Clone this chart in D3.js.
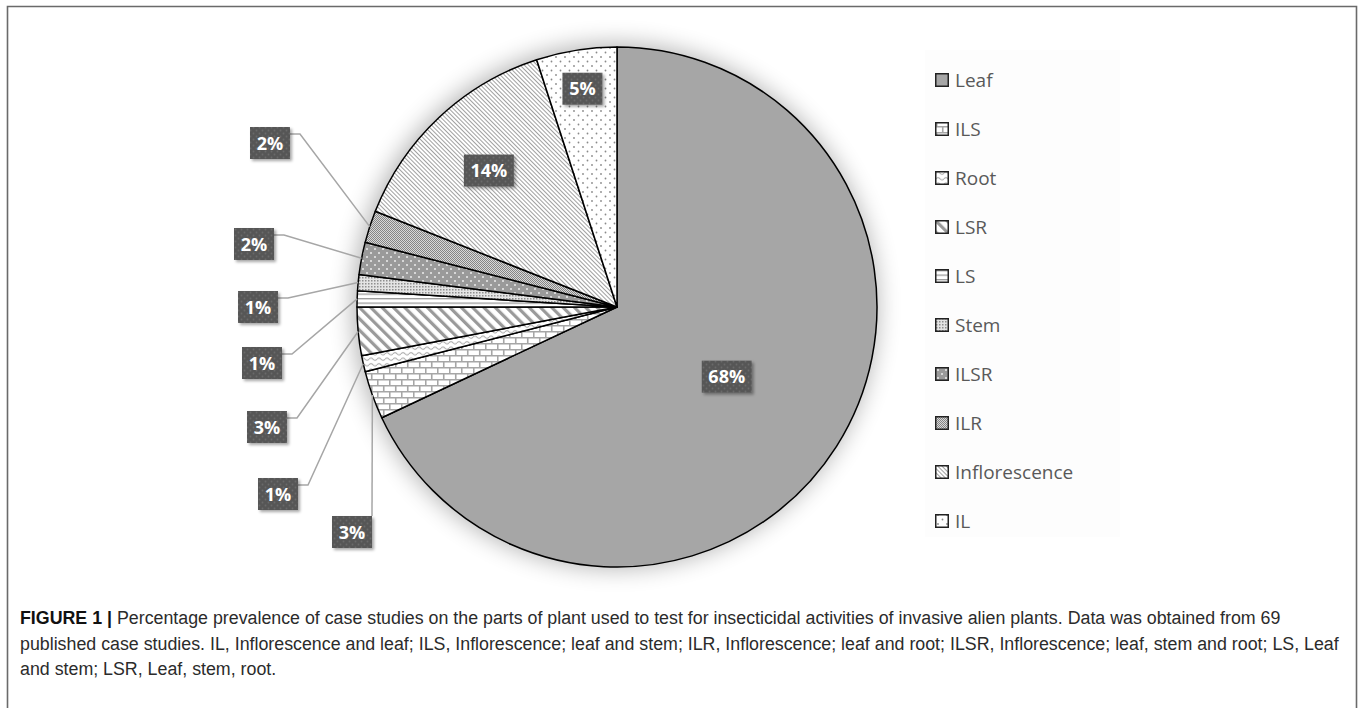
<!DOCTYPE html>
<html>
<head>
<meta charset="utf-8">
<script src="https://cdn.jsdelivr.net/npm/d3@7"></script>
<style>
  html, body { margin: 0; padding: 0; background: #fff; }
  svg { display: block; }
</style>
</head>
<body>
<svg id="fig" width="1360" height="708"></svg>
<script>
// Plant parts tested, in the order the slices run clockwise from 12 o'clock
const categories = ["Leaf", "ILS", "Root", "LSR", "LS", "Stem", "ILSR", "ILR", "Inflorescence", "IL"];
// Share of the 69 case studies, percent
const shares = [68, 3, 1, 3, 1, 1, 2, 2, 14, 5];
// Fill pattern used for each part
const patternIds = ["pLeaf", "pBrick", "pWave", "pWide", "pHoriz", "pStem", "pILSR", "pILR", "pFine", "pDots"];

const captionLines = [
  "Percentage prevalence of case studies on the parts of plant used to test for insecticidal activities of invasive alien plants. Data was obtained from 69",
  "published case studies. IL, Inflorescence and leaf; ILS, Inflorescence; leaf and stem; ILR, Inflorescence; leaf and root; ILSR, Inflorescence; leaf, stem and root; LS, Leaf",
  "and stem; LSR, Leaf, stem, root."
];

// ---- layout ----
const W = 1360, H = 708;
const cx = 617, cy = 307, R = 260;
// labels drawn on the slice: fraction of the radius along the mid angle
const insideLabelRadius = { "Leaf": 0.5, "Inflorescence": 0.72, "IL": 0.85 };
// labels pulled out of the pie: top-left corner of the box; elbow = short horizontal run
const outsideLabels = {
  "ILS":  { x: 332, y: 516, elbow: false },
  "Root": { x: 258, y: 478, elbow: true },
  "LSR":  { x: 247, y: 411, elbow: true },
  "LS":   { x: 242, y: 347, elbow: true },
  "Stem": { x: 238, y: 291, elbow: true },
  "ILSR": { x: 234, y: 228, elbow: true },
  "ILR":  { x: 250, y: 127, elbow: true }
};

const svg = d3.select("#fig");
const defs = svg.append("defs");
const grey = "#a6a6a6";

// ---- fill patterns ----
function pattern(id, w, h, attrs) {
  const p = defs.append("pattern").attr("id", id)
    .attr("patternUnits", "userSpaceOnUse").attr("width", w).attr("height", h);
  if (attrs) Object.entries(attrs).forEach(([k, v]) => p.attr(k, v));
  return p;
}
// Leaf: solid grey
pattern("pLeaf", 4, 4).append("rect").attr("width", 4).attr("height", 4).attr("fill", grey);
// ILS: bricks
{
  const p = pattern("pBrick", 12, 12);
  p.append("rect").attr("width", 12).attr("height", 12).attr("fill", "#fff");
  p.append("path").attr("d", "M0 0.75H12M0 6.75H12M0.75 0V6.75M6.75 6.75V12")
    .attr("stroke", grey).attr("stroke-width", 1.6).attr("fill", "none");
}
// Root: wavy lines
{
  const p = pattern("pWave", 8, 5.5);
  p.append("rect").attr("width", 8).attr("height", 5.5).attr("fill", "#fff");
  p.append("path").attr("d", "M0 2.75 Q2 0.6 4 2.75 T8 2.75")
    .attr("stroke", "#999").attr("stroke-width", 1).attr("fill", "none");
}
// LSR: wide diagonal stripes
{
  const p = pattern("pWide", 8, 8, { patternTransform: "rotate(-45)" });
  p.append("rect").attr("width", 8).attr("height", 8).attr("fill", "#fff");
  p.append("rect").attr("x", 0).attr("width", 3.2).attr("height", 8).attr("fill", "#9a9a9a");
}
// LS: horizontal lines
{
  const p = pattern("pHoriz", 6, 4.5);
  p.append("rect").attr("width", 6).attr("height", 4.5).attr("fill", "#fff");
  p.append("rect").attr("y", 0).attr("width", 6).attr("height", 1.3).attr("fill", "#9a9a9a");
}
// Stem: light fine grid
{
  const p = pattern("pStem", 3, 3);
  p.append("rect").attr("width", 3).attr("height", 3).attr("fill", "#e4e4e4");
  p.append("rect").attr("width", 1.5).attr("height", 1.5).attr("fill", "#8f8f8f");
}
// ILSR: grey with white dots
{
  const p = pattern("pILSR", 8, 8);
  p.append("rect").attr("width", 8).attr("height", 8).attr("fill", "#9a9a9a");
  p.append("circle").attr("cx", 2).attr("cy", 2).attr("r", 1).attr("fill", "#ececec");
  p.append("circle").attr("cx", 6).attr("cy", 6).attr("r", 1).attr("fill", "#ececec");
}
// ILR: dense checker
{
  const p = pattern("pILR", 2, 2);
  p.append("rect").attr("width", 2).attr("height", 2).attr("fill", "#d8d8d8");
  p.append("rect").attr("width", 1).attr("height", 1).attr("fill", "#858585");
  p.append("rect").attr("x", 1).attr("y", 1).attr("width", 1).attr("height", 1).attr("fill", "#858585");
}
// Inflorescence: fine diagonal hatching
{
  const p = pattern("pFine", 3, 3, { patternTransform: "rotate(-45)" });
  p.append("rect").attr("width", 3).attr("height", 3).attr("fill", "#fff");
  p.append("rect").attr("width", 1).attr("height", 3).attr("fill", "#a0a0a0");
}
// IL: sparse dots on white
{
  const p = pattern("pDots", 9, 9);
  p.append("rect").attr("width", 9).attr("height", 9).attr("fill", "#fff");
  p.append("circle").attr("cx", 2).attr("cy", 2).attr("r", 0.9).attr("fill", "#8a8a8a");
  p.append("circle").attr("cx", 6.5).attr("cy", 6.5).attr("r", 0.9).attr("fill", "#8a8a8a");
}
// data-label box: dark grey with faint dots
{
  const p = pattern("pLabel", 6, 6);
  p.append("rect").attr("width", 6).attr("height", 6).attr("fill", "#575757");
  p.append("circle").attr("cx", 1.5).attr("cy", 1.5).attr("r", 0.9).attr("fill", "#6a6a6a");
  p.append("circle").attr("cx", 4.5).attr("cy", 4.5).attr("r", 0.9).attr("fill", "#6a6a6a");
}

// soft shadows
const pieShadow = defs.append("filter").attr("id", "pieShadow")
  .attr("x", "-30%").attr("y", "-30%").attr("width", "160%").attr("height", "160%");
pieShadow.append("feGaussianBlur").attr("stdDeviation", 12);
const boxShadow = defs.append("filter").attr("id", "boxShadow")
  .attr("x", "-40%").attr("y", "-40%").attr("width", "180%").attr("height", "180%");
boxShadow.append("feDropShadow").attr("dx", 2).attr("dy", 2).attr("stdDeviation", 1.8)
  .attr("flood-color", "#000").attr("flood-opacity", 0.35);

// ---- figure frame ----
svg.append("path").attr("d", `M7.5 ${H + 5}V6.5H1356.5V${H + 5}`)
  .attr("fill", "none").attr("stroke", "#6a6a6a").attr("stroke-width", 1.6);

// ---- legend panel ----
svg.append("rect").attr("x", 925).attr("y", 50).attr("width", 195).attr("height", 487)
  .attr("fill", "#fdfdfd");

// ---- pie ----
const pie = d3.pie().sort(null).value(d => d.value).startAngle(0).endAngle(2 * Math.PI);
const data = categories.map((c, i) => ({ name: c, value: shares[i], pat: patternIds[i] }));
const arcs = pie(data);
const arc = d3.arc().innerRadius(0).outerRadius(R);

const g = svg.append("g").attr("transform", `translate(${cx},${cy})`);
g.append("circle").attr("r", R + 2).attr("cx", -2).attr("cy", -1)
  .attr("fill", "#000").attr("opacity", 0.3).attr("filter", "url(#pieShadow)");
g.append("circle").attr("r", R).attr("fill", "#fff");

g.selectAll("path.slice").data(arcs).join("path")
  .attr("class", "slice")
  .attr("d", arc)
  .attr("fill", d => `url(#${d.data.pat})`)
  .attr("stroke", "#000").attr("stroke-width", 1.5).attr("stroke-linejoin", "round");

// point on a circle of radius rr at the slice's mid angle (d3 angles run clockwise from 12 o'clock)
function polar(a, rr) { return [cx + rr * Math.sin(a), cy - rr * Math.cos(a)]; }

// ---- leader lines and data labels ----
const labelLayer = svg.append("g");
const boxH = 32;
const boxW = t => (t.length > 2 ? 50 : 40);

arcs.forEach(d => {
  const name = d.data.name;
  const text = d.data.value + "%";
  const mid = (d.startAngle + d.endAngle) / 2;
  let bx, by;
  const bw = boxW(text);
  if (outsideLabels[name]) {
    const o = outsideLabels[name];
    bx = o.x; by = o.y;
    const end = polar(mid, R);
    let pts;
    if (o.elbow) {
      const yy = by + 7;
      pts = [[bx + bw, yy], [bx + bw + 10, yy], end];
    } else {
      pts = [[bx + bw, by], end];
    }
    labelLayer.append("path")
      .attr("d", d3.line()(pts))
      .attr("fill", "none").attr("stroke", "#a6a6a6").attr("stroke-width", 1.5);
  } else {
    const [px, py] = polar(mid, R * insideLabelRadius[name]);
    bx = px - bw / 2; by = py - boxH / 2;
  }
  const lg = labelLayer.append("g");
  lg.append("rect").attr("x", bx).attr("y", by).attr("width", bw).attr("height", boxH)
    .attr("fill", "url(#pLabel)").attr("filter", "url(#boxShadow)");
  lg.append("text").attr("x", bx + bw / 2).attr("y", by + boxH / 2 + 6.5)
    .attr("text-anchor", "middle")
    .attr("font-family", "'Open Sans', sans-serif").attr("font-weight", 700)
    .attr("font-size", 18).attr("fill", "#fff").text(text);
});

// ---- legend ----
const legY = d3.scalePoint().domain(categories).range([80, 521]);
const leg = svg.append("g");
categories.forEach((c, i) => {
  const y = legY(c);
  leg.append("rect").attr("x", 935.75).attr("y", y - 6.25).attr("width", 12.5).attr("height", 12.5)
    .attr("fill", `url(#${patternIds[i]})`).attr("stroke", "#222").attr("stroke-width", 1.5);
  leg.append("text").attr("x", 955).attr("y", y + 7)
    .attr("font-family", "'Open Sans', sans-serif").attr("font-size", 19)
    .attr("fill", "#595959").text(c);
});

// ---- caption ----
const cap = svg.append("g")
  .attr("font-family", "'Liberation Sans', Arial, sans-serif").attr("fill", "#2b2b2b");
const baselines = [624, 650, 675];
const capTexts = captionLines.map((s, i) => {
  const t = cap.append("text").attr("x", 20).attr("y", baselines[i]).attr("font-size", 15);
  if (i === 0) {
    t.append("tspan").attr("font-weight", 700).attr("fill", "#111").text("FIGURE 1 | ");
  }
  t.append("tspan").text(s);
  return t;
});
// size the caption so the long second line runs to the right margin
const wide = capTexts[1].node().getComputedTextLength();
const fs = 15 * 1319 / wide;
capTexts.forEach(t => t.attr("font-size", fs));
</script>
</body>
</html>
